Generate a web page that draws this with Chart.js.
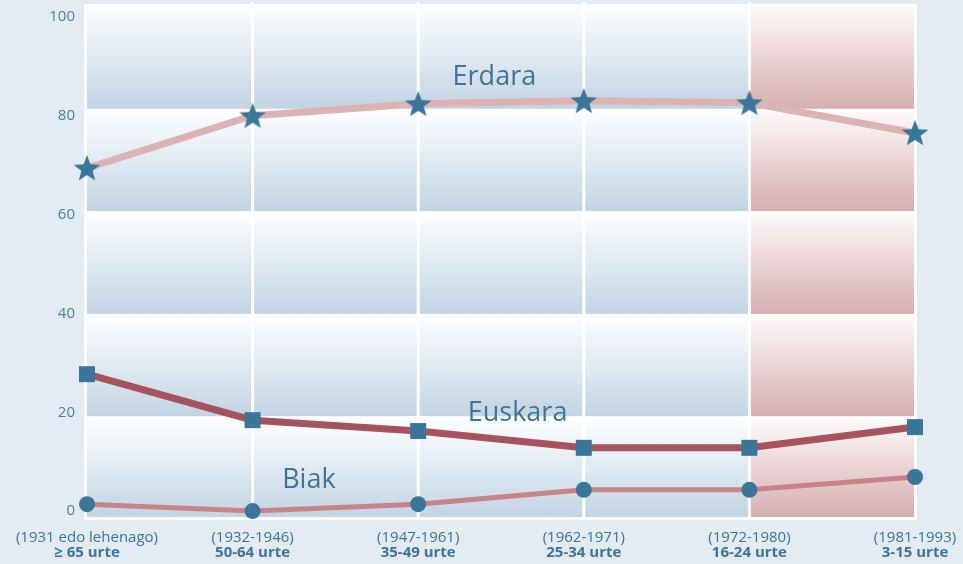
<!DOCTYPE html>
<html>
<head>
<meta charset="utf-8">
<script src="https://cdn.jsdelivr.net/npm/chart.js@4"></script>
<style>
  html, body { margin: 0; padding: 0; background: #e3eaf1; }
  #wrap { width: 963px; height: 564px; }
</style>
</head>
<body>
<div id="wrap"><canvas id="myChart" width="963" height="564"></canvas></div>
<script>
// data
var urteak = ['(1931 edo lehenago)', '(1932-1946)', '(1947-1961)', '(1962-1971)', '(1972-1980)', '(1981-1993)'];
var adinak = ['\u2265 65 urte', '50-64 urte', '35-49 urte', '25-34 urte', '16-24 urte', '3-15 urte'];
var erdara = [69.4, 80.0, 82.4, 83.0, 82.6, 76.5];
var euskara = [27.7, 18.4, 16.2, 12.8, 12.8, 17.0];
var biak = [1.4, 0, 1.4, 4.3, 4.3, 6.9];
var yTicks = [0, 20, 40, 60, 80, 100];

// background band edges (y values) and series names shown in the chart
var bandEdges = [102.6, 81.1, 60.4, 39.6, 18.9, -1.8];
var izenak = [
    {text: 'Erdara', x: 2.46, y: 87.8},
    {text: 'Euskara', x: 2.60, y: 19.7},
    {text: 'Biak', x: 1.34, y: 6.2}
];

var textColor = '#3b7598';
var markerColor = '#3a7698';

function toPoints(arr) {
    return arr.map(function (v, i) { return {x: i, y: v}; });
}

function makeStar(r, color) {
    var c = document.createElement('canvas');
    c.width = c.height = 2 * r + 2;
    var g = c.getContext('2d');
    g.fillStyle = color;
    g.beginPath();
    for (var i = 0; i < 10; i++) {
        var rad = (i % 2 === 0) ? r : r * 0.42;
        var a = -Math.PI / 2 + i * Math.PI / 5;
        var px = c.width / 2 + rad * Math.cos(a);
        var py = c.height / 2 + rad * Math.sin(a) + 1;
        if (i === 0) g.moveTo(px, py); else g.lineTo(px, py);
    }
    g.closePath();
    g.fill();
    return c;
}

var bgPlugin = {
    id: 'bands',
    beforeDatasetsDraw: function (chart) {
        var ctx = chart.ctx, a = chart.chartArea;
        var xs = chart.scales.x, ys = chart.scales.y;
        var split = xs.getPixelForValue(4);
        ctx.save();
        ctx.fillStyle = '#ffffff';
        ctx.fillRect(a.left, a.top, a.right - a.left, a.bottom - a.top);
        for (var i = 0; i < bandEdges.length - 1; i++) {
            var top = ys.getPixelForValue(bandEdges[i]) + (i === 0 ? 3 : 1.5);
            var bot = ys.getPixelForValue(bandEdges[i + 1]) - (i === bandEdges.length - 2 ? 3 : 1.5);
            var gb = ctx.createLinearGradient(0, top, 0, bot);
            gb.addColorStop(0, '#fdfeff');
            gb.addColorStop(1, '#c2d4e1');
            ctx.fillStyle = gb;
            ctx.fillRect(a.left + 3, top, split - a.left - 3, bot - top);
            var gp = ctx.createLinearGradient(0, top, 0, bot);
            gp.addColorStop(0, '#fcf9f9');
            gp.addColorStop(1, '#d7adb0');
            ctx.fillStyle = gp;
            ctx.fillRect(split, top, a.right - 3 - split, bot - top);
        }
        ctx.fillStyle = '#ffffff';
        for (var k = 1; k < 5; k++) {
            var vx = xs.getPixelForValue(k);
            ctx.fillRect(vx - 1.5, a.top - 2, 3, a.bottom - a.top + 2);
        }
        ctx.fillStyle = textColor;
        ctx.textAlign = 'center';
        ctx.textBaseline = 'middle';
        izenak.forEach(function (n) {
            ctx.font = '27px "Open Sans"';
            ctx.fillText(n.text, xs.getPixelForValue(n.x), ys.getPixelForValue(n.y));
        });
        ctx.restore();
    },
    afterDraw: function (chart) {
        var ctx = chart.ctx, xs = chart.scales.x;
        ctx.save();
        ctx.fillStyle = textColor;
        ctx.textAlign = 'center';
        ctx.textBaseline = 'middle';
        for (var i = 0; i < urteak.length; i++) {
            var px = xs.getPixelForValue(i);
            ctx.font = '15px "Open Sans"';
            ctx.fillText(urteak[i], px, 538);
            ctx.font = 'bold 15px "Open Sans"';
            ctx.fillText(adinak[i], px, 553);
        }
        ctx.restore();
    }
};

var ctx = document.getElementById('myChart').getContext('2d');
var chart = new Chart(ctx, {
    type: 'line',
    data: {
        datasets: [{
            label: 'Erdara',
            data: toPoints(erdara),
            borderColor: '#dbb3b5',
            borderWidth: 7,
            pointStyle: makeStar(14, markerColor),
            pointRadius: 14,
            clip: false
        }, {
            label: 'Euskara',
            data: toPoints(euskara),
            borderColor: '#a4535f',
            borderWidth: 7,
            pointStyle: 'rect',
            pointRadius: 11.3,
            pointBackgroundColor: markerColor,
            pointBorderWidth: 0,
            clip: false
        }, {
            label: 'Biak',
            data: toPoints(biak),
            borderColor: '#c8828a',
            borderWidth: 5,
            pointStyle: 'circle',
            pointRadius: 8,
            pointBackgroundColor: markerColor,
            pointBorderWidth: 0,
            clip: false
        }]
    },
    options: {
        responsive: false,
        animation: false,
        layout: {autoPadding: false, padding: {top: 4, right: 46, bottom: 44, left: 0}},
        plugins: {legend: {display: false}, tooltip: {enabled: false}},
        scales: {
            x: {type: 'linear', min: -0.018, max: 5.012, display: false},
            y: {
                min: -1.8, max: 102.6,
                afterFit: function (s) {
                    s.width = 84;
                    s.paddingTop = 0;
                    s.paddingBottom = 0;
                },
                afterBuildTicks: function (s) { s.ticks = yTicks.map(function (v) { return {value: v}; }); },
                grid: {display: false, drawTicks: false},
                border: {display: false},
                ticks: {color: '#4a80a3', padding: 9, font: {family: 'Open Sans', size: 15}}
            }
        }
    },
    plugins: [bgPlugin]
});
</script>
</body>
</html>
